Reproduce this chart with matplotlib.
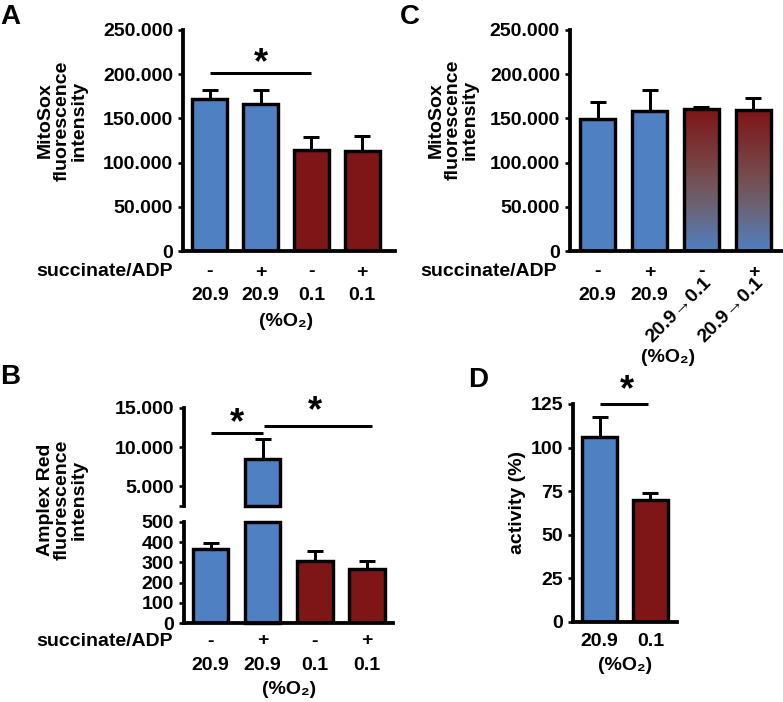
import numpy as np
import matplotlib
matplotlib.use("Agg")
import matplotlib.pyplot as plt
from matplotlib.colors import LinearSegmentedColormap
from matplotlib.ticker import FuncFormatter, FixedLocator

plt.rcParams['font.family'] = ['Liberation Sans', 'DejaVu Sans']
plt.rcParams['font.weight'] = 'bold'
plt.rcParams['font.size'] = 14

BLUE = '#4f80c1'
RED = '#7e1517'
O2 = '(%O\u2082)'

# ---- data ----
# A: MitoSox, isolated mitochondria
a_subst = ['-', '+', '-', '+']
a_o2 = ['20.9', '20.9', '0.1', '0.1']
a_mean = [171500, 166000, 114000, 113000]
a_sem = [10500, 16000, 15000, 17000]
a_col = [BLUE, BLUE, RED, RED]

# B: Amplex Red
b_subst = ['-', '+', '-', '+']
b_o2 = ['20.9', '20.9', '0.1', '0.1']
b_mean = [368, 8520, 305, 266]
b_sem = [26, 2520, 51, 39]
b_col = [BLUE, BLUE, RED, RED]

# C: MitoSox, shift 20.9 -> 0.1
c_subst = ['-', '+', '-', '+']
c_o2 = ['20.9', '20.9', '20.9\u21920.1', '20.9\u21920.1']
c_mean = [149000, 158000, 161000, 159500]
c_sem = [19000, 24000, 2000, 13500]
c_grad = [False, False, True, True]

# D: activity
d_o2 = ['20.9', '0.1']
d_mean = [106.3, 70.0]
d_sem = [11.1, 4.0]
d_col = [BLUE, RED]

W, H = 783, 702
fig = plt.figure(figsize=(W / 100, H / 100), dpi=100)

def px(v):
    return v * 72 / 100.0

SPW = px(3.8)
LW = px(3.4)
ELW = px(3.0)

def box(l, t, r, b):
    return [l / W, 1 - b / H, (r - l) / W, (b - t) / H]

def style(ax, bottom=True):
    for s in ['top', 'right']:
        ax.spines[s].set_visible(False)
    ax.spines['left'].set_linewidth(SPW)
    ax.spines['bottom'].set_linewidth(SPW)
    if not bottom:
        ax.spines['bottom'].set_visible(False)
    ax.tick_params(axis='y', direction='out', length=px(5), width=px(2.6), pad=px(5), labelsize=14)
    ax.set_xticks([])
    ax.patch.set_alpha(0)

def thousands(v, pos):
    if v == 0:
        return '0'
    return '%.3f' % (v / 1000.0)

def row(ax, x, txt, dy, **kw):
    ax.annotate(txt, xy=(x, 0), xycoords=('data', 'axes fraction'),
                xytext=(0, -px(dy)), textcoords='offset points',
                ha='center', va='center', fontsize=14, fontweight='bold',
                annotation_clip=False, **kw)

def star(ax, x, y, dy):
    ax.annotate('*', xy=(x, y), xytext=(0, px(dy)), textcoords='offset points',
                ha='center', va='baseline', fontsize=26, fontweight='bold',
                annotation_clip=False)

def sigline(ax, x0, x1, y):
    ax.plot([x0, x1], [y, y], color='k', lw=ELW, clip_on=False, solid_capstyle='butt')

def bars(ax, x, mean, sem, colors, width):
    ax.errorbar(x, mean, yerr=[np.zeros(len(mean)), sem], fmt='none', ecolor='k',
                elinewidth=ELW, capsize=px(8), capthick=ELW, zorder=1)
    return ax.bar(x, mean, width=width, color=colors, edgecolor='k', linewidth=LW, zorder=2)

# ---------- A ----------
axA = fig.add_axes(box(183, 30, 395, 251))
style(axA)
xa = np.arange(4)
bars(axA, xa, a_mean, a_sem, a_col, 0.69)
axA.set_xlim(-0.53, 3.65)
axA.set_ylim(0, 250000)
axA.set_yticks(np.arange(0, 250001, 50000))
axA.yaxis.set_major_formatter(FuncFormatter(thousands))
for i in range(4):
    row(axA, xa[i], a_subst[i], 21)
    row(axA, xa[i], a_o2[i], 45)
row(axA, 1.5, O2, 71)
axA.annotate('succinate/ADP', xy=(0, 0), xycoords='axes fraction',
             xytext=(-px(10), -px(21)), textcoords='offset points',
             ha='right', va='center', fontsize=14, fontweight='bold', annotation_clip=False)
sigline(axA, 0, 2, 201000)
star(axA, 1, 201000, 0)
axA.text(-0.571, 0.59, 'MitoSox\nfluorescence\nintensity', transform=axA.transAxes,
         rotation=90, ha='center', va='center', multialignment='center', fontsize=14,
         linespacing=1.0)

# ---------- C ----------
axC = fig.add_axes(box(570, 30, 782, 251))
style(axC)
xc = np.arange(4)
bc = bars(axC, xc, c_mean, c_sem, [BLUE] * 4, 0.68)
cmap = LinearSegmentedColormap.from_list(
    'rb', [(0, BLUE), (0.3, '#6b6478'), (0.55, '#774a4c'), (1, RED)])
grad = np.linspace(0, 1, 256).reshape(-1, 1)
for i, g in enumerate(c_grad):
    if g:
        p = bc[i]
        p.set_facecolor('none')
        p.set_zorder(3)
        x0 = p.get_x()
        im = axC.imshow(grad, cmap=cmap, origin='lower', aspect='auto',
                        extent=(x0, x0 + p.get_width(), 0, c_mean[i]), zorder=2)
        im.set_clip_path(p)
axC.set_xlim(-0.53, 3.55)
axC.set_ylim(0, 250000)
axC.set_yticks(np.arange(0, 250001, 50000))
axC.yaxis.set_major_formatter(FuncFormatter(thousands))
for i in range(4):
    row(axC, xc[i], c_subst[i], 21)
    if c_grad[i]:
        axC.annotate(c_o2[i], xy=(xc[i], 0), xycoords=('data', 'axes fraction'),
                     xytext=(-px(22), -px(59)), textcoords='offset points',
                     ha='center', va='center', rotation=45, rotation_mode='anchor',
                     fontsize=14, fontweight='bold', annotation_clip=False)
    else:
        row(axC, xc[i], c_o2[i], 45)
row(axC, 1.36, O2, 106)
axC.annotate('succinate/ADP', xy=(0, 0), xycoords='axes fraction',
             xytext=(-px(13), -px(21)), textcoords='offset points',
             ha='right', va='center', fontsize=14, fontweight='bold', annotation_clip=False)
axC.text(-0.552, 0.593, 'MitoSox\nfluorescence\nintensity', transform=axC.transAxes,
         rotation=90, ha='center', va='center', multialignment='center', fontsize=14,
         linespacing=1.0)

# ---------- B (broken axis) ----------
axBb = fig.add_axes(box(184, 522, 393, 623))
axBt = fig.add_axes(box(184, 408, 393, 506))
style(axBb)
style(axBt, bottom=False)
xb = np.arange(4)
lo_max, hi_min = 500, 2500
b_low = [min(v, lo_max) for v in b_mean]
b_low_sem = [s if v <= lo_max else 0 for v, s in zip(b_mean, b_sem)]
bl = bars(axBb, xb, b_low, b_low_sem, b_col, 0.68)
for p, v in zip(bl, b_mean):
    if v > lo_max:
        p.set_clip_on(False)
for i, v in enumerate(b_mean):
    if v > hi_min:
        axBt.errorbar([xb[i]], [v], yerr=[[0], [b_sem[i]]], fmt='none', ecolor='k',
                      elinewidth=ELW, capsize=px(8), capthick=ELW, zorder=1)
        pt = axBt.bar([xb[i]], [v - hi_min], bottom=hi_min, width=0.68, color=b_col[i],
                      edgecolor='k', linewidth=LW, zorder=2)
        pt[0].set_clip_on(False)
axBb.set_xlim(-0.51, 3.5)
axBt.set_xlim(-0.51, 3.5)
axBb.set_ylim(0, 500)
axBb.set_yticks(np.arange(0, 501, 100))
axBt.set_ylim(hi_min, 15000)
axBt.yaxis.set_major_locator(FixedLocator([5000, 10000, 15000]))
axBt.yaxis.set_major_formatter(FuncFormatter(thousands))
axBt.yaxis.set_minor_locator(FixedLocator([hi_min]))
axBt.tick_params(axis='y', which='minor', length=px(5), width=px(2.6), direction='out')
for i in range(4):
    row(axBb, xb[i], b_subst[i], 18)
    row(axBb, xb[i], b_o2[i], 42)
row(axBb, 1.5, O2, 67)
axBb.annotate('succinate/ADP', xy=(0, 0), xycoords='axes fraction',
              xytext=(-px(11), -px(18)), textcoords='offset points',
              ha='right', va='center', fontsize=14, fontweight='bold', annotation_clip=False)
sigline(axBt, 0, 1, 11850)
sigline(axBt, 1.02, 3.1, 12730)
star(axBt, 0.5, 11850, 0)
star(axBt, 2.0, 12730, 5)
fig.text(62 / W, 1 - 500 / H, 'Amplex Red\nfluorescence\nintensity', rotation=90,
         ha='center', va='center', multialignment='center', fontsize=14, linespacing=1.0)

# ---------- D ----------
axD = fig.add_axes(box(573, 404, 677, 622))
style(axD)
xd = np.arange(2)
bars(axD, xd, d_mean, d_sem, d_col, 0.69)
axD.set_xlim(-0.52, 1.52)
axD.set_ylim(0, 125)
axD.set_yticks(np.arange(0, 126, 25))
for i in range(2):
    row(axD, xd[i], d_o2[i], 20)
row(axD, 0.5, O2, 43)
sigline(axD, 0, 0.96, 125)
star(axD, 0.54, 125, 4)
fig.text(518 / W, 1 - 503 / H, 'activity (%)', rotation=90, ha='center', va='center', fontsize=14)

# panel letters
for lab, x, y in [('A', 0, 4), ('B', 0, 364), ('C', 400, 4), ('D', 468, 367)]:
    fig.text(x / W, 1 - y / H, lab, fontsize=20, fontweight='bold', ha='left', va='top')

fig.savefig('out.png', dpi=100)
